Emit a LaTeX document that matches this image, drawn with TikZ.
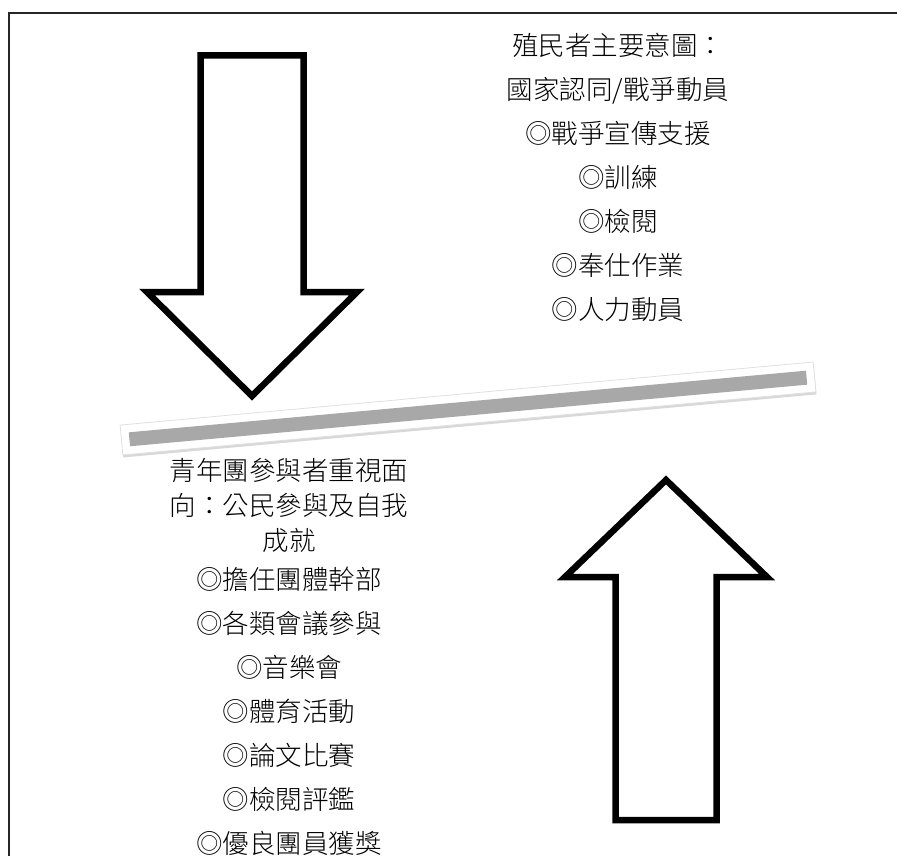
\documentclass[tikz,border=0pt]{standalone}
\usepackage{fontspec}
\newfontfamily\cjk{Noto Sans CJK TC}[UprightFont={* Light}]
\usetikzlibrary{positioning,shadows}

\begin{document}
\begin{tikzpicture}[
  x=1pt, y=-1pt,
  bigarrow/.style={
    draw=black,
    line width=6.5pt,
    fill=white,
    drop shadow={shadow xshift=1.5pt, shadow yshift=-2pt, fill=black!30}
  },
  bar/.style={
    fill=white,
    draw=black!12,
    line width=0.8pt,
    inner sep=0pt,
    minimum width=696pt,
    minimum height=30pt,
    drop shadow={shadow xshift=0.5pt, shadow yshift=-2.5pt, fill=black!30}
  },
  barcore/.style={fill=white!66!black, inner sep=0pt, minimum width=680pt, minimum height=14pt},
  label/.style={font=\cjk\fontsize{26.5}{44}\selectfont, align=center, inner sep=0pt},
  labeltight/.style={font=\cjk\fontsize{26.5}{35}\selectfont, align=center, inner sep=0pt}
]
\useasboundingbox (0,0) rectangle (897,856);

% frame (only top and left edges show)
\draw[line width=2pt, black!85] (9,870) -- (9,13) -- (910,13);

% downward arrow
\draw[bigarrow] (200.5,55.5) -- (303.5,55.5) -- (303.5,292) -- (357,292)
  -- (252,396) -- (147,292) -- (200.5,292) -- cycle;

% upward arrow
\draw[bigarrow] (615.5,820) -- (615.5,577) -- (565,577) -- (666,480)
  -- (767,577) -- (716.5,577) -- (716.5,820) -- cycle;

% tilted separator bar
\node[bar, rotate=5.2] (bar) at (468,408.5) {};
\node[barcore, rotate=5.2] (barcore) at (bar.center) {};

% colonizer side
\node[label, anchor=north] (colonial) at (618,33)
  {殖民者主要意圖：\\國家認同/戰爭動員\\◎戰爭宣傳支援\\◎訓練\\◎檢閱\\◎奉仕作業\\◎人力動員};

% participant side
\node[labeltight, anchor=north] (youthtitle) at (289,458)
  {青年團參與者重視面\\向：公民參與及自我\\成就};
\node[label, anchor=north] (youthlist) at (289,567)
  {◎擔任團體幹部\\◎各類會議參與\\◎音樂會\\◎體育活動\\◎論文比賽\\◎檢閱評鑑\\◎優良團員獲獎};

\end{tikzpicture}
\end{document}
